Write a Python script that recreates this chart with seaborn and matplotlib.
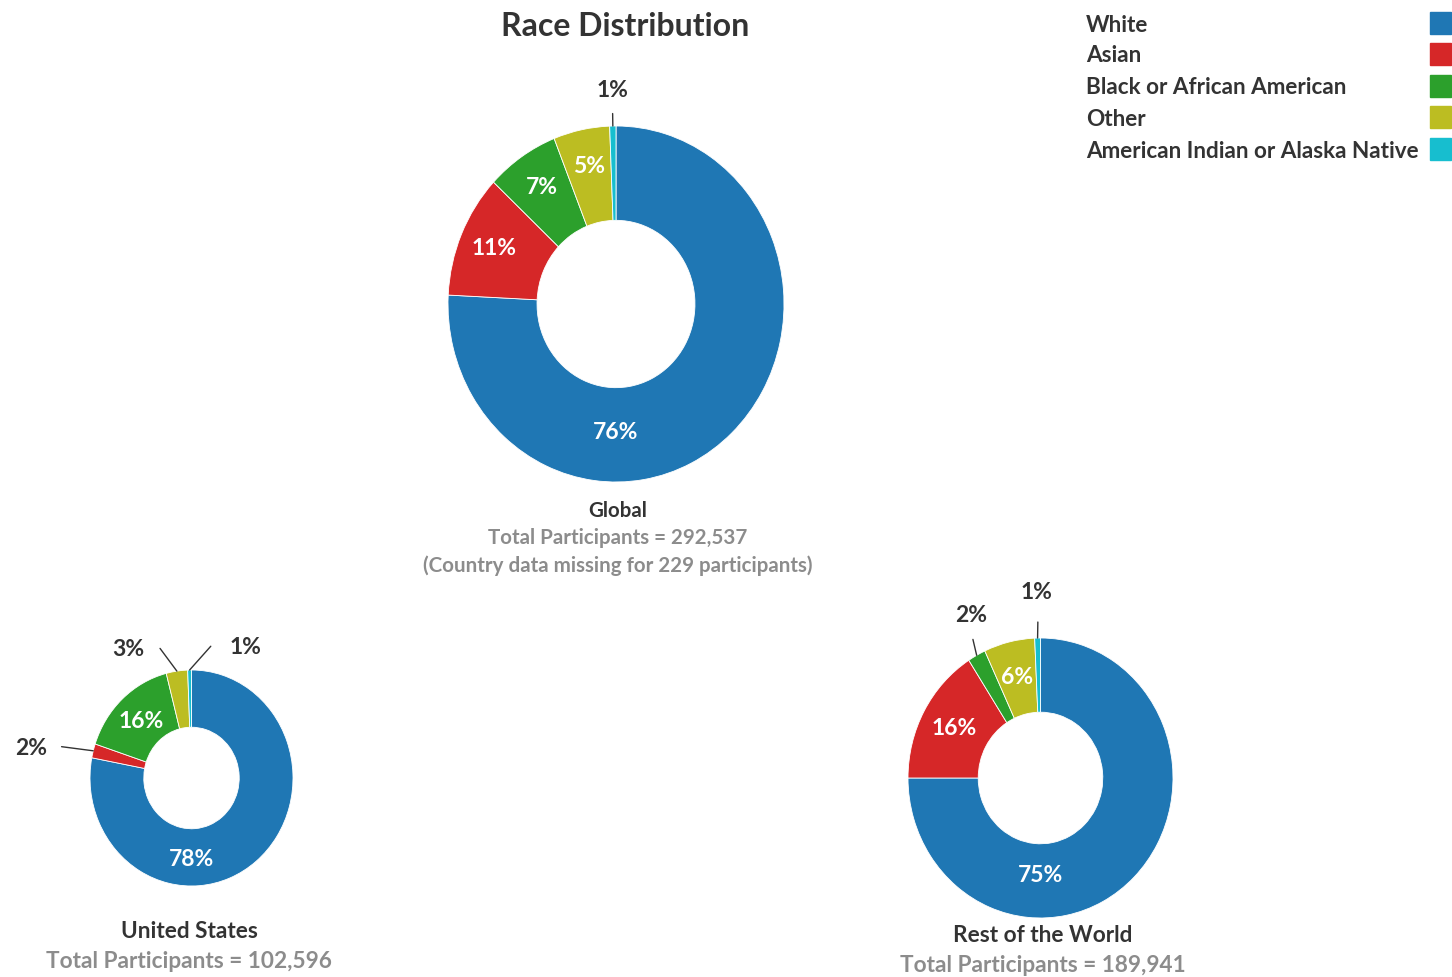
import matplotlib
matplotlib.use("Agg")
import numpy as np
import matplotlib.pyplot as plt
import matplotlib.patches as mpatches
import seaborn as sns

# Data
races = ["White", "Asian", "Black or African American", "Other",
         "American Indian or Alaska Native"]
global_share = [75.8, 11.2, 7.0, 5.4, 0.6]
us_share = [78.0, 2.1, 15.9, 3.4, 0.6]
row_share = [75.0, 15.9, 2.2, 6.2, 0.7]

global_total = 292537
us_total = 102596
row_total = 189941
missing_country = 229

sns.set_theme(style="white")
plt.rcParams["font.family"] = ["Lato", "DejaVu Sans"]
palette = sns.color_palette("tab10")
colors = [palette[0], palette[3], palette[2], palette[8], palette[9]]

DARK = "#333333"
GREY = "#8c8c8c"
W, H = 1452, 977
LBL = 16.5

fig = plt.figure(figsize=(W / 100, H / 100), dpi=100)


def px_box(cx, cy, rx, ry):
    return [(cx - rx) / W, (H - cy - ry) / H, 2 * rx / W, 2 * ry / H]


def ftext(x, y, s, **kw):
    # pixel position (from top-left) -> figure fraction
    fig.text(x / W, 1 - y / H, s, va="center", fontweight="bold", **kw)


def donut(ax, shares, label_r, first_r, outside):
    wedges, _ = ax.pie(shares, colors=colors, startangle=90, counterclock=False,
                       radius=1, wedgeprops=dict(width=0.53, edgecolor="white", linewidth=0.6))
    ax.set_aspect("auto")
    ax.set_xlim(-1, 1)
    ax.set_ylim(-1, 1)
    for i, (w, v) in enumerate(zip(wedges, shares)):
        mid = np.deg2rad((w.theta1 + w.theta2) / 2)
        txt = f"{round(v)}%"
        if i in outside:
            (tx, ty), (ex, ey) = outside[i]
            ax.plot([np.cos(mid), ex], [np.sin(mid), ey], color=DARK, lw=1, clip_on=False)
            ax.text(tx, ty, txt, ha="center", va="center", color=DARK,
                    fontsize=LBL, fontweight="bold", clip_on=False)
        else:
            r = label_r
            if i == 0:
                mid, r = -np.pi / 2, first_r
            ax.text(r * np.cos(mid), r * np.sin(mid), txt, ha="center",
                    va="center", color="white", fontsize=LBL, fontweight="bold")


# Global
ax_g = fig.add_axes(px_box(616, 304, 168, 178))
donut(ax_g, global_share, 0.79, 0.72, {4: ((-0.02, 1.20), (-0.02, 1.07))})

# United States
ax_us = fig.add_axes(px_box(191.5, 778, 101.5, 108))
donut(ax_us, us_share, 0.72, 0.75, {
    1: ((-1.58, 0.27), (-1.28, 0.29)),
    3: ((-0.62, 1.19), (-0.31, 1.20)),
    4: ((0.53, 1.21), (0.19, 1.22)),
})

# Rest of the World
ax_row = fig.add_axes(px_box(1040.5, 778, 132.5, 140))
donut(ax_row, row_share, 0.74, 0.70, {
    2: ((-0.52, 1.16), (-0.51, 0.99)),
    4: ((-0.03, 1.325), (-0.02, 1.114)),
})

# Titles and captions
ftext(625, 27, "Race Distribution", ha="center", fontsize=23, color=DARK)

cap = 14.8
ftext(618, 511, "Global", ha="center", fontsize=cap, color=DARK)
ftext(618, 538, f"Total Participants = {global_total:,}", ha="center", fontsize=cap, color=GREY)
ftext(618, 566, f"(Country data missing for {missing_country} participants)",
      ha="center", fontsize=cap, color=GREY)

cap2 = 16.3
ftext(189, 932, "United States", ha="center", fontsize=cap2, color=DARK)
ftext(189, 962, f"Total Participants = {us_total:,}", ha="center", fontsize=cap2, color=GREY)
ftext(1043, 935, "Rest of the World", ha="center", fontsize=cap2, color=DARK)
ftext(1043, 966, f"Total Participants = {row_total:,}", ha="center", fontsize=cap2, color=GREY)

# Legend: labels left-aligned, swatches at the right edge
row_y = [23, 54, 86, 117, 149]
for name, c, y in zip(races, colors, row_y):
    ftext(1086, y + 2, name, ha="left", fontsize=16.2, color=DARK)
    fig.patches.append(mpatches.Rectangle((1430 / W, 1 - (y + 11) / H), 21 / W, 22 / H,
                                          transform=fig.transFigure, color=c, figure=fig))

fig.savefig("out.png", dpi=100)
